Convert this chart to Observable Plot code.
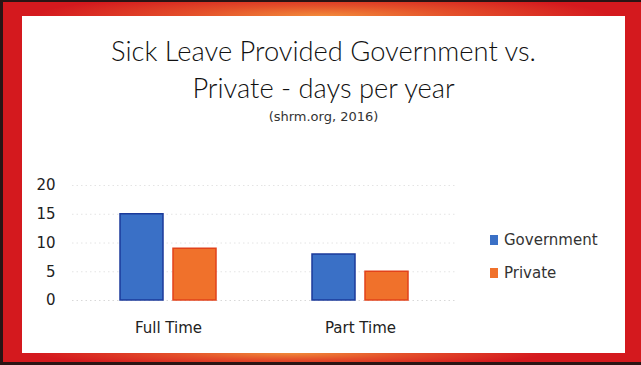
<!DOCTYPE html>
<html>
<head>
<meta charset="utf-8">
<script src="https://cdn.jsdelivr.net/npm/d3@7"></script>
<script src="https://cdn.jsdelivr.net/npm/@observablehq/plot@0.6"></script>
<style>
  html, body { margin: 0; padding: 0; background: #fff; }
  #page { position: relative; width: 641px; height: 365px; overflow: hidden; background: #2a1414; }
  #red { position: absolute; left: 3px; top: 2px; width: 638px; height: 360px; background: #d4191e; }
  #topband { position: absolute; left: 3px; top: 2px; width: 638px; height: 14px;
    background: radial-gradient(ellipse 45% 160% at 50% 100%, #f28a3a 0%, #e4502a 45%, rgba(212,25,30,0) 100%); }
  #botband { position: absolute; left: 3px; top: 353px; width: 638px; height: 9px;
    background: radial-gradient(ellipse 40% 160% at 45% 0%, #f08a3a 0%, #e4502a 45%, rgba(212,25,30,0) 100%); }
  #white { position: absolute; left: 22px; top: 16px; width: 603px; height: 337px; background: #fff; }
  .t { position: absolute; left: 22px; width: 603px; text-align: center; color: #111; white-space: nowrap; }
  #title { top: 32px; font-family: Lato, "Open Sans", sans-serif; font-weight: 300; font-size: 27.3px; line-height: 37px; }
  #sub { top: 109px; font-family: "DejaVu Sans", sans-serif; font-size: 13px; line-height: 16px; color: #333; }
  #chart { position: absolute; left: 22px; top: 160px; }
  #legend { position: absolute; left: 490px; top: 230px; font-family: "DejaVu Sans", sans-serif; font-size: 15px; color: #333; }
  .li { position: absolute; left: 0; white-space: nowrap; height: 20px; line-height: 20px; }
  .sw { position: absolute; left: 0; top: 5px; width: 8px; height: 10px; }
  .lt { position: absolute; left: 14px; top: 0; }
</style>
</head>
<body>
<div id="page">
  <div id="red"></div>
  <div id="topband"></div>
  <div id="botband"></div>
  <div id="white"></div>
  <div class="t" id="title"><span style="display:block">Sick Leave Provided Government vs.</span><span style="display:block">Private - days per year</span></div>
  <div class="t" id="sub">(shrm.org, 2016)</div>
  <div id="chart"></div>
  <div id="legend"></div>
</div>
<script>
const categories = ["Full Time", "Part Time"];
const seriesNames = ["Government", "Private"];
const government = [15, 8];
const privateSector = [9, 5];
const yTicks = [0, 5, 10, 15, 20];
const fillColors = ["#3a70c6", "#f0712b"];
const strokeColors = ["#1b3a9a", "#e2421a"];

const data = [];
categories.forEach((c, i) => {
  data.push({category: c, series: seriesNames[0], value: government[i]});
  data.push({category: c, series: seriesNames[1], value: privateSector[i]});
});

const chart = Plot.plot({
  width: 440,
  height: 185,
  marginLeft: 50,
  marginRight: 6,
  marginTop: 25,
  marginBottom: 45,
  style: {fontFamily: "DejaVu Sans, sans-serif", fontSize: "15px", color: "#222", background: "transparent"},
  facet: {data, x: "category"},
  fx: {domain: categories, padding: 0, axis: "bottom", label: null, tickSize: 0, tickPadding: 22},
  x: {domain: seriesNames, paddingInner: 0.194, paddingOuter: 0.875, axis: null},
  y: {domain: [0, 20], ticks: yTicks, tickSize: 0, tickPadding: 17, label: null},
  color: {domain: seriesNames, range: fillColors},
  marks: [
    Plot.ruleY(yTicks, {stroke: d => d === 0 ? "#d8d8d8" : "#e4e4e4", strokeDasharray: "1.5,3"}),
    Plot.barY(data, {x: "series", y: "value", fill: "series",
      stroke: d => strokeColors[seriesNames.indexOf(d.series)], strokeWidth: 1.5})
  ]
});
document.getElementById("chart").appendChild(chart);

const legend = document.getElementById("legend");
const legendTops = [0, 33];
seriesNames.forEach((s, i) => {
  const li = document.createElement("div");
  li.className = "li";
  li.style.top = legendTops[i] + "px";
  li.innerHTML = `<span class="sw" style="background:${fillColors[i]}"></span><span class="lt">${s}</span>`;
  legend.appendChild(li);
});
</script>
</body>
</html>
